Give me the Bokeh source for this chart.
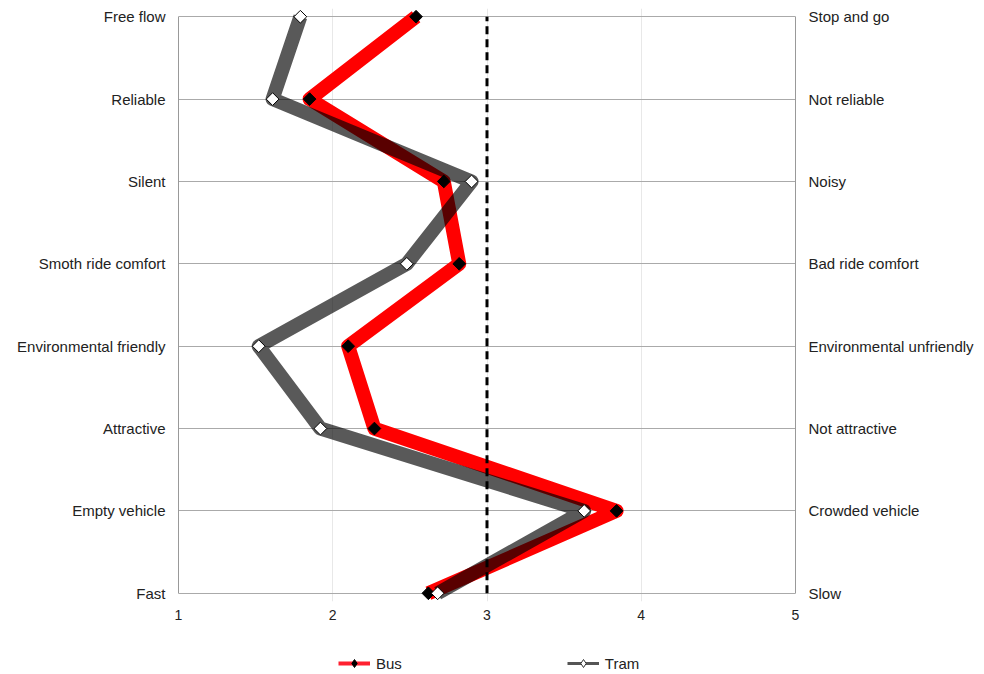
import math
from bokeh.plotting import figure
from bokeh.layouts import column
from bokeh.models import Range1d, FixedTicker, LinearAxis, Legend, LegendItem
from bokeh.embed import file_html
from bokeh.resources import INLINE

# ---- data ----
left_labels = ["Free flow", "Reliable", "Silent", "Smoth ride comfort",
               "Environmental friendly", "Attractive", "Empty vehicle", "Fast"]
right_labels = ["Stop and go", "Not reliable", "Noisy", "Bad ride comfort",
                "Environmental unfriendly", "Not attractive", "Crowded vehicle", "Slow"]
bus = [2.54, 1.85, 2.72, 2.82, 2.10, 2.27, 3.84, 2.62]
tram = [1.79, 1.61, 2.90, 2.48, 1.52, 1.92, 3.63, 2.68]
x_ticks = [1, 2, 3, 4, 5]
neutral = 3

n = len(left_labels)
ypos = [n - 1 - i for i in range(n)]
pad = 0.1
FONT = "Liberation Sans"

p = figure(width=984, height=626,
           x_range=Range1d(x_ticks[0], x_ticks[-1]),
           y_range=Range1d(min(ypos) - pad, max(ypos) + pad),
           output_backend="svg", toolbar_location=None,
           min_border_left=178, min_border_right=189,
           min_border_top=8, min_border_bottom=25)
p.outline_line_color = None
p.background_fill_color = "white"
p.border_fill_color = "white"

# grids
p.xgrid.ticker = FixedTicker(ticks=x_ticks)
p.xgrid.grid_line_color = "#e8e8e8"
p.ygrid.ticker = FixedTicker(ticks=ypos)
p.ygrid.grid_line_color = "#aaaaaa"

# bottom axis
xa = p.xaxis[0]
xa.ticker = FixedTicker(ticks=x_ticks)
xa.axis_line_color = None
xa.major_tick_out = 0
xa.major_tick_in = 0
xa.minor_tick_out = 0
xa.minor_tick_in = 0
xa.major_label_standoff = 8
xa.major_label_text_font = FONT
xa.major_label_text_font_size = "14px"
xa.major_label_text_color = "#222222"

# left axis
ya = p.yaxis[0]
ya.ticker = FixedTicker(ticks=ypos)
ya.major_label_overrides = {y: lab for y, lab in zip(ypos, left_labels)}
ya.bounds = (min(ypos), max(ypos))

ra = LinearAxis(ticker=FixedTicker(ticks=ypos),
                major_label_overrides={y: lab for y, lab in zip(ypos, right_labels)},
                bounds=(min(ypos), max(ypos)))
p.add_layout(ra, "right")

for ax in (ya, ra):
    ax.axis_line_color = "#999999"
    ax.major_tick_out = 0
    ax.major_tick_in = 0
    ax.minor_tick_out = 0
    ax.minor_tick_in = 0
    ax.major_label_standoff = 13
    ax.major_label_text_font = FONT
    ax.major_label_text_font_size = "15px"
    ax.major_label_text_color = "#222222"

# data lines
p.line(bus, ypos, line_color="#ff0000", line_width=14, line_join="round")
p.line(tram, ypos, line_color="black", line_alpha=0.65, line_width=14, line_join="round")

# neutral dashed line
p.line([neutral, neutral], [min(ypos), max(ypos)], line_color="black",
       line_width=3, line_dash="8 5")

# markers
p.scatter(bus, ypos, marker="square", angle=math.pi / 4, size=9,
          fill_color="black", line_color="black")
p.scatter(tram, ypos, marker="square", angle=math.pi / 4, size=9,
          fill_color="white", line_color="black", line_width=1)

# ---- legend strip (separate small figure; proxies lie outside its ranges) ----
lg = figure(width=984, height=48,
            x_range=Range1d(100, 101), y_range=Range1d(100, 101),
            output_backend="svg", toolbar_location=None,
            x_axis_location=None, y_axis_location=None,
            min_border_left=0, min_border_right=0,
            min_border_top=0, min_border_bottom=0)
lg.outline_line_color = None
lg.grid.visible = False
lg.background_fill_color = "white"
lg.border_fill_color = "white"

lb = lg.line(bus, ypos, line_color="#ff2030", line_width=4)
mb = lg.scatter(bus, ypos, marker="diamond", size=10,
                fill_color="black", line_color="black")
lt = lg.line(tram, ypos, line_color="#555555", line_width=3)
mt = lg.scatter(tram, ypos, marker="diamond", size=10,
                fill_color="white", line_color="#333333")

legend = Legend(items=[LegendItem(label="Bus", renderers=[lb, mb]),
                       LegendItem(label="Tram", renderers=[lt, mt])],
                orientation="horizontal", location=(160, 1),
                spacing=165, glyph_width=32, glyph_height=20,
                label_height=20, label_standoff=6, padding=0, margin=0,
                border_line_color=None, background_fill_alpha=0,
                label_text_font=FONT, label_text_font_size="15px",
                label_text_color="#222222")
lg.add_layout(legend, "center")

layout = column(p, lg, spacing=0)
open("out.html", "w").write(file_html(layout, INLINE))
